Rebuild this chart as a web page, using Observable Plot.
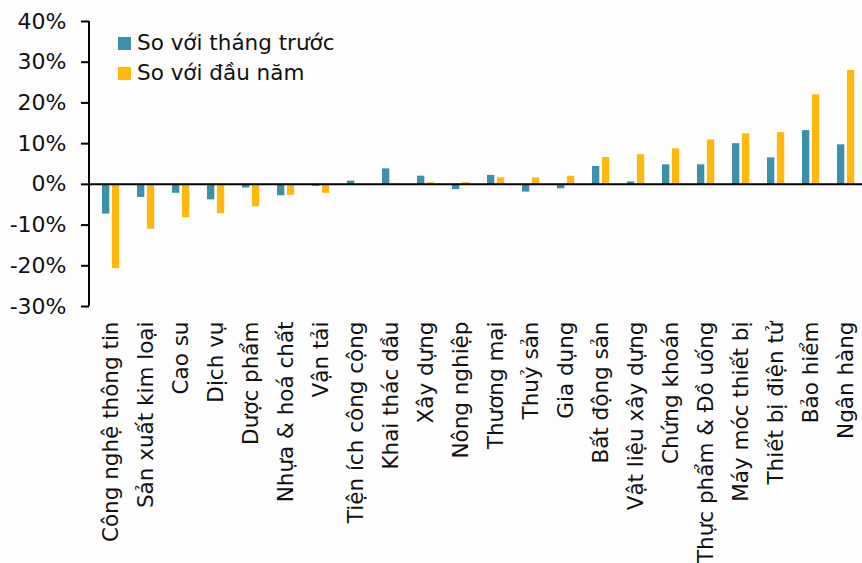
<!DOCTYPE html>
<html>
<head>
<meta charset="utf-8">
<script src="https://cdn.jsdelivr.net/npm/d3@7"></script>
<script src="https://cdn.jsdelivr.net/npm/@observablehq/plot@0.6"></script>
<style>
  html, body { margin: 0; padding: 0; background: #fdfdfd; overflow: hidden; }
  #wrap { position: relative; width: 862px; height: 563px; font-family: "DejaVu Sans", sans-serif; color: #111; }
  #legend { position: absolute; left: 118px; top: 28px; font-size: 21.5px; line-height: 30px; }
  #legend .item { display: flex; align-items: center; }
  #legend .sw { width: 13px; height: 13px; margin-right: 6px; }
</style>
</head>
<body>
<div id="wrap">
  <div id="chart"></div>
  <div id="legend"></div>
</div>
<script>
// Sectors, sorted by year-to-date change
const sectors = [
  "Công nghệ thông tin", "Sản xuất kim loại", "Cao su", "Dịch vụ", "Dược phẩm",
  "Nhựa & hoá chất", "Vận tải", "Tiện ích công cộng", "Khai thác dầu", "Xây dựng",
  "Nông nghiệp", "Thương mại", "Thuỷ sản", "Gia dụng", "Bất động sản",
  "Vật liệu xây dựng", "Chứng khoán", "Thực phẩm & Đồ uống", "Máy móc thiết bị",
  "Thiết bị điện tử", "Bảo hiểm", "Ngân hàng"
];
// Change vs previous month (%)
const vsPrevMonth = [
  -7.3, -3.2, -2.2, -3.8, -0.9, -2.8, -0.5, 0.8, 3.8, 2.0,
  -1.3, 2.2, -1.9, -1.1, 4.4, 0.6, 4.8, 4.8, 10.0, 6.5, 13.2, 9.7
];
// Change vs start of year (%)
const vsYearStart = [
  -20.7, -11.0, -8.2, -7.2, -5.5, -2.7, -2.2, -0.3, 0.1, 0.4,
  0.4, 1.6, 1.6, 2.0, 6.6, 7.3, 8.7, 10.9, 12.4, 12.7, 22.0, 28.0
];
const seriesNames = ["So với tháng trước", "So với đầu năm"];
const seriesColors = ["#3a91a9", "#ffb90c"];
const yTicks = [-30, -20, -10, 0, 10, 20, 30, 40];

const rows = sectors.map((s, i) => ({sector: s, m: vsPrevMonth[i], y: vsYearStart[i]}));

const plot = Plot.plot({
  width: 862,
  height: 563,
  marginLeft: 89,
  marginRight: 0,
  marginTop: 21,
  marginBottom: 257,
  style: {background: "transparent", fontFamily: "DejaVu Sans, sans-serif", fontSize: "21.5px", color: "#111"},
  x: {domain: sectors, range: [90, 865.5], padding: 0},
  y: {domain: [-30, 40]},
  marks: [
    Plot.barY(rows, {x: "sector", y: "m", fill: seriesColors[0], insetLeft: 9, insetRight: 18.7}),
    Plot.barY(rows, {x: "sector", y: "y", fill: seriesColors[1], insetLeft: 18.9, insetRight: 8.8}),
    Plot.ruleY([0], {stroke: "#000", strokeWidth: 2}),
    Plot.axisY({ticks: yTicks, tickFormat: d => d + "%", tickSize: 8, tickPadding: 15, label: null, stroke: "#000", strokeWidth: 2, fontSize: 22}),
    Plot.axisX({tickSize: 0, tickPadding: 15, tickRotate: -90, label: null, fontSize: 21.5})
  ]
});
document.getElementById("chart").appendChild(plot);

// vertical axis line along the left edge of the frame
const yr = plot.scale("y").range;
d3.select(plot).append("line")
  .attr("x1", 89).attr("x2", 89)
  .attr("y1", yr[0]).attr("y2", yr[1])
  .attr("stroke", "#000").attr("stroke-width", 2);

const legend = d3.select("#legend");
seriesNames.forEach((n, i) => {
  const it = legend.append("div").attr("class", "item");
  it.append("div").attr("class", "sw").style("background", seriesColors[i]);
  it.append("span").text(n);
});
</script>
</body>
</html>
